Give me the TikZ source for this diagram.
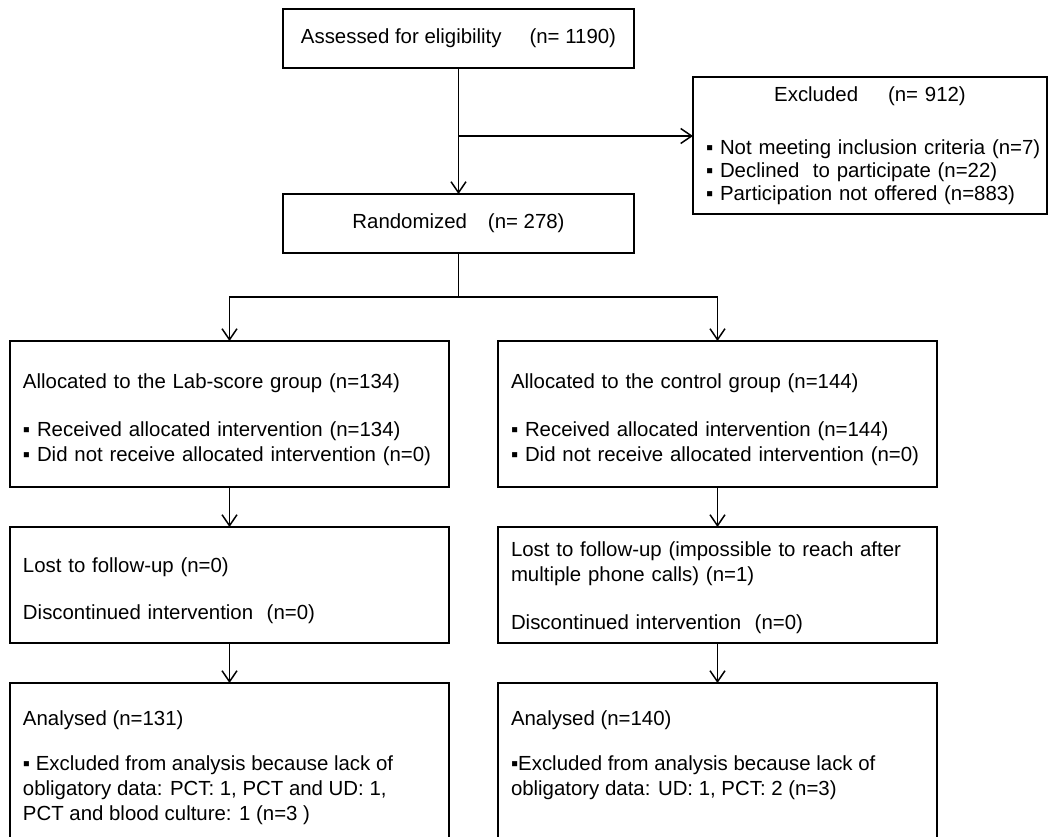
\documentclass[tikz,border=0pt]{standalone}
\usepackage{fontspec}
\setmainfont{Liberation Sans}
\usetikzlibrary{arrows.meta}
\begin{document}
\begin{tikzpicture}[x=1pt,y=-1pt,
  every node/.style={font=\fontsize{20.4}{25}\selectfont, outer sep=0pt},
  box/.style={draw, line width=1.5pt, inner xsep=13pt, inner ysep=0pt, align=left},
  arr/.style={line width=1.5pt, -{Straight Barb[length=11pt,width=15pt]}},
  ln/.style={line width=1.5pt}]
\useasboundingbox (0,0) rectangle (1061,836);
\clip (0,0) rectangle (1061,836);
% top row
\node[box, align=center, minimum width=351pt, minimum height=59pt] (top) at (458.5,38.5)
  {Assessed for eligibility\hspace{28pt}(n= 1190)};
\node[box, align=center, minimum width=351pt, minimum height=59pt] (rand) at (458.5,223.5)
  {Randomized\hspace{21pt}(n= 278)};
\node[box, text width=328pt, minimum height=137pt] (excl) at (870,145.5)
  {\makebox[328pt][c]{Excluded\hspace{30pt}(n= 912)}\\[28pt]
   \mbox{▪ Not meeting inclusion criteria (n=7)}\\[-2pt]
   \mbox{▪ Declined\ \ to participate (n=22)}\\[-2pt]
   \mbox{▪ Participation not offered (n=883)}};
% allocation
\node[box, text width=413pt, minimum height=146pt] (allocL) at (229.5,414)
  {\rule{0pt}{25.3pt}\mbox{Allocated to the Lab-score group (n=134)}\\[23pt]
   \mbox{▪ Received allocated intervention (n=134)}\\
   \mbox{▪ Did not receive allocated intervention (n=0)}};
\node[box, text width=413pt, minimum height=146pt] (allocR) at (717.5,414)
  {\rule{0pt}{25.3pt}\mbox{Allocated to the control group (n=144)}\\[23pt]
   \mbox{▪ Received allocated intervention (n=144)}\\
   \mbox{▪ Did not receive allocated intervention (n=0)}};
% follow-up
\node[box, text width=413pt, minimum height=116pt] (lostL) at (229.5,585)
  {\rule{0pt}{25.3pt}Lost to follow-up (n=0)\\[22pt]
   Discontinued intervention\ \ (n=0)};
\node[box, text width=413pt, minimum height=116pt] (lostR) at (717.5,585)
  {\rule{0pt}{19.3pt}\mbox{Lost to follow-up (impossible to reach after}\\
   multiple phone calls) (n=1)\\[23pt]
   Discontinued intervention\ \ (n=0)};
% analysis
\node[box, anchor=north] (anaL) at (229.5,683)
  {\parbox[t][165pt][t]{413pt}{\raggedright\vspace*{25pt}\strut Analysed (n=131)\\[20pt]
   \mbox{▪ Excluded from analysis because lack of}\\
   \mbox{obligatory data: PCT: 1, PCT and UD: 1,}\\
   PCT and blood culture: 1 (n=3 )}};
\node[box, anchor=north] (anaR) at (717.5,683)
  {\parbox[t][165pt][t]{413pt}{\raggedright\vspace*{25pt}\strut Analysed (n=140)\\[20pt]
   \mbox{▪Excluded from analysis because lack of}\\
   obligatory data: UD: 1, PCT: 2 (n=3)}};
% connectors
\coordinate (br) at (458.5,136);
\coordinate (split) at (458.5,297);
\draw[arr] (top) -- (rand);
\draw[arr] (br) -- (br -| excl.west);
\draw[ln] (rand) -- (split);
\draw[arr] (split) -| (allocL.north);
\draw[arr] (split) -| (allocR.north);
\draw[arr] (allocL) -- (lostL);
\draw[arr] (allocR) -- (lostR);
\draw[arr] (lostL) -- (anaL);
\draw[arr] (lostR) -- (anaR);
\end{tikzpicture}
\end{document}
